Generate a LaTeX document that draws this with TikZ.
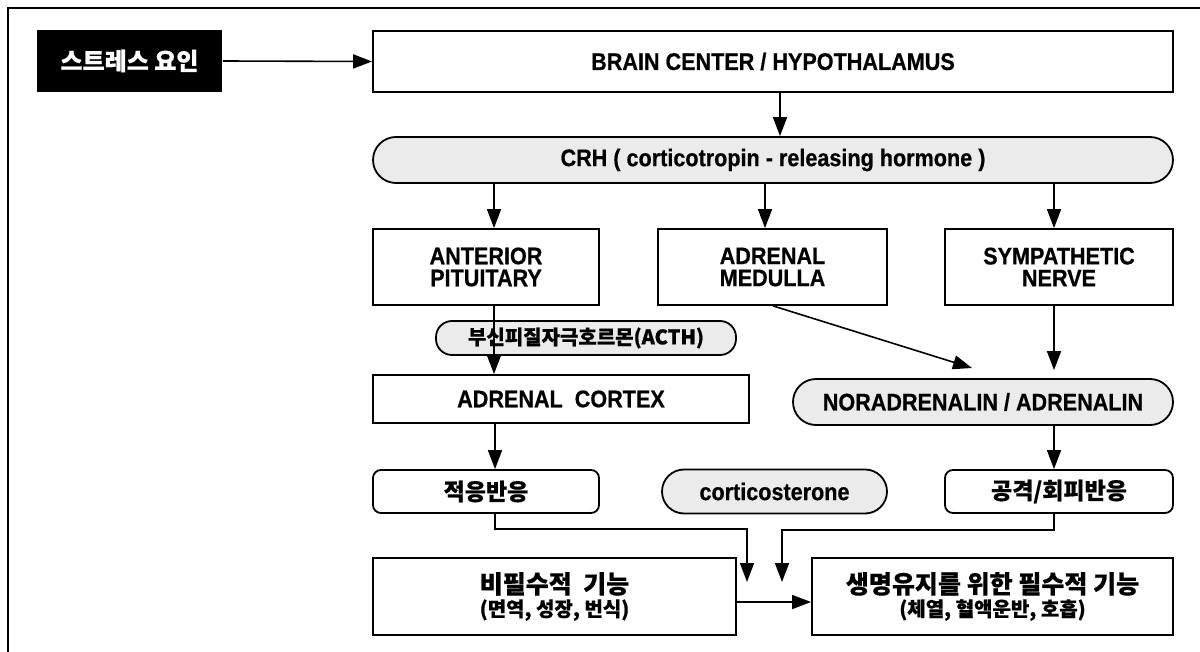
\documentclass[tikz,border=0pt]{standalone}
\usepackage{fontspec}
\setmainfont{Liberation Sans}[FakeStretch=0.9, BoldFeatures={FakeBold=0.6}]
\newfontfamily\kr{Noto Sans CJK KR}[BoldFeatures={FakeBold=0.6}]
\usetikzlibrary{arrows.meta}
\begin{document}
\begin{tikzpicture}[x=1pt,y=-1pt,
  line width=1.8pt,
  >={Triangle[length=19pt,width=14pt]},
  box/.style={draw, rectangle, inner sep=0pt, align=center, font=\fontsize{24}{22}\selectfont\bfseries},
  pill/.style={draw, rounded corners=16pt, fill=black!8, inner sep=0pt, align=center, font=\fontsize{24}{22}\selectfont\bfseries},
  rbox/.style={draw, rounded corners=8pt, inner sep=0pt, align=center, font=\kr\fontsize{23}{24}\selectfont\bfseries},
  conn/.style={->, line width=1.6pt},
  twoline/.style={draw, rectangle, inner sep=0pt, align=center, font=\kr\fontsize{25}{26}\selectfont\bfseries}
]
\useasboundingbox (0,0) rectangle (1200,652);
\draw[line width=1.3pt] (8,652) -- (8,8) -- (1200,8);

\node[fill=black, text=white, inner sep=0pt, minimum width=185pt, minimum height=62pt,
      font=\kr\fontsize{24}{26}\selectfont\bfseries] (stress) at (129.5,61) {스트레스 요인};
\node[box, minimum width=800pt, minimum height=61pt] (brain) at (773,61.5) {BRAIN CENTER / HYPOTHALAMUS};
\node[pill, rounded corners=23pt, minimum width=800pt, minimum height=46pt] (crh) at (773,160) {CRH ( corticotropin - releasing hormone )};

\node[box, minimum width=226pt, minimum height=76pt] (ant) at (486,267) {ANTERIOR\\PITUITARY};
\node[box, minimum width=229pt, minimum height=76pt] (med) at (772.5,267) {ADRENAL\\MEDULLA};
\node[box, minimum width=228pt, minimum height=76pt] (sym) at (1059,267) {SYMPATHETIC\\NERVE};

\node[pill, minimum width=300pt, minimum height=34pt, font=\kr\fontsize{20}{22}\selectfont\bfseries] (acth) at (586,338) {부신피질자극호르몬(ACTH)};
\node[box, minimum width=376pt, minimum height=48pt] (cortex) at (561,399) {ADRENAL\ \ CORTEX};
\node[pill, rounded corners=23pt, minimum width=380pt, minimum height=46pt] (nor) at (983,402) {NORADRENALIN / ADRENALIN};

\node[rbox, minimum width=226pt, minimum height=43pt] (adapt) at (486,491.5) {적응반응};
\node[pill, rounded corners=22pt, minimum width=225pt, minimum height=44pt] (cort) at (774.5,491.5) {corticosterone};
\node[rbox, minimum width=228pt, minimum height=43pt] (fight) at (1059,491.5) {공격/회피반응};

\node[twoline, minimum width=363pt, minimum height=77pt] (non) at (554.5,596.5)
  {비필수적\ \ 기능\\[-3pt]{\fontsize{20}{22}\selectfont (면역, 성장, 번식)}};
\node[twoline, minimum width=361pt, minimum height=77pt] (ess) at (992.5,596.5)
  {생명유지를\ 위한\ 필수적\ 기능\\[-3pt]{\fontsize{20}{22}\selectfont (체열, 혈액운반, 호흡)}};

\draw[conn] (stress.east) -- (brain.west);
\draw[conn] (brain.south -| 780,0) -- (crh.north -| 780,0);
\draw[conn] (crh.south -| 494,0) -- (ant.north -| 494,0);
\draw[conn] (crh.south -| 765,0) -- (med.north -| 765,0);
\draw[conn] (crh.south -| 1054,0) -- (sym.north -| 1054,0);
\draw[conn] (ant.south -| 494,0) -- (cortex.north -| 494,0);
\coordinate (dtip) at (972,368);
\draw[conn] (med.south -| 773,0) -- (dtip);
\draw[conn, shorten >=8pt] (sym.south -| 1054,0) -- (nor.north -| 1054,0);
\draw[conn] (cortex.south -| 495,0) -- (adapt.north -| 495,0);
\draw[conn] (nor.south -| 1054,0) -- (fight.north -| 1054,0);
\coordinate (t1) at (747,582);
\coordinate (t2) at (782,582);
\draw[conn] (adapt.south -| 495,0) |- (747,529) -- (t1);
\draw[conn] (fight.south -| 1054,0) |- (782,530) -- (t2);
\draw[conn] (non.east |- 0,602) -- (ess.west |- 0,602);
\end{tikzpicture}
\end{document}
